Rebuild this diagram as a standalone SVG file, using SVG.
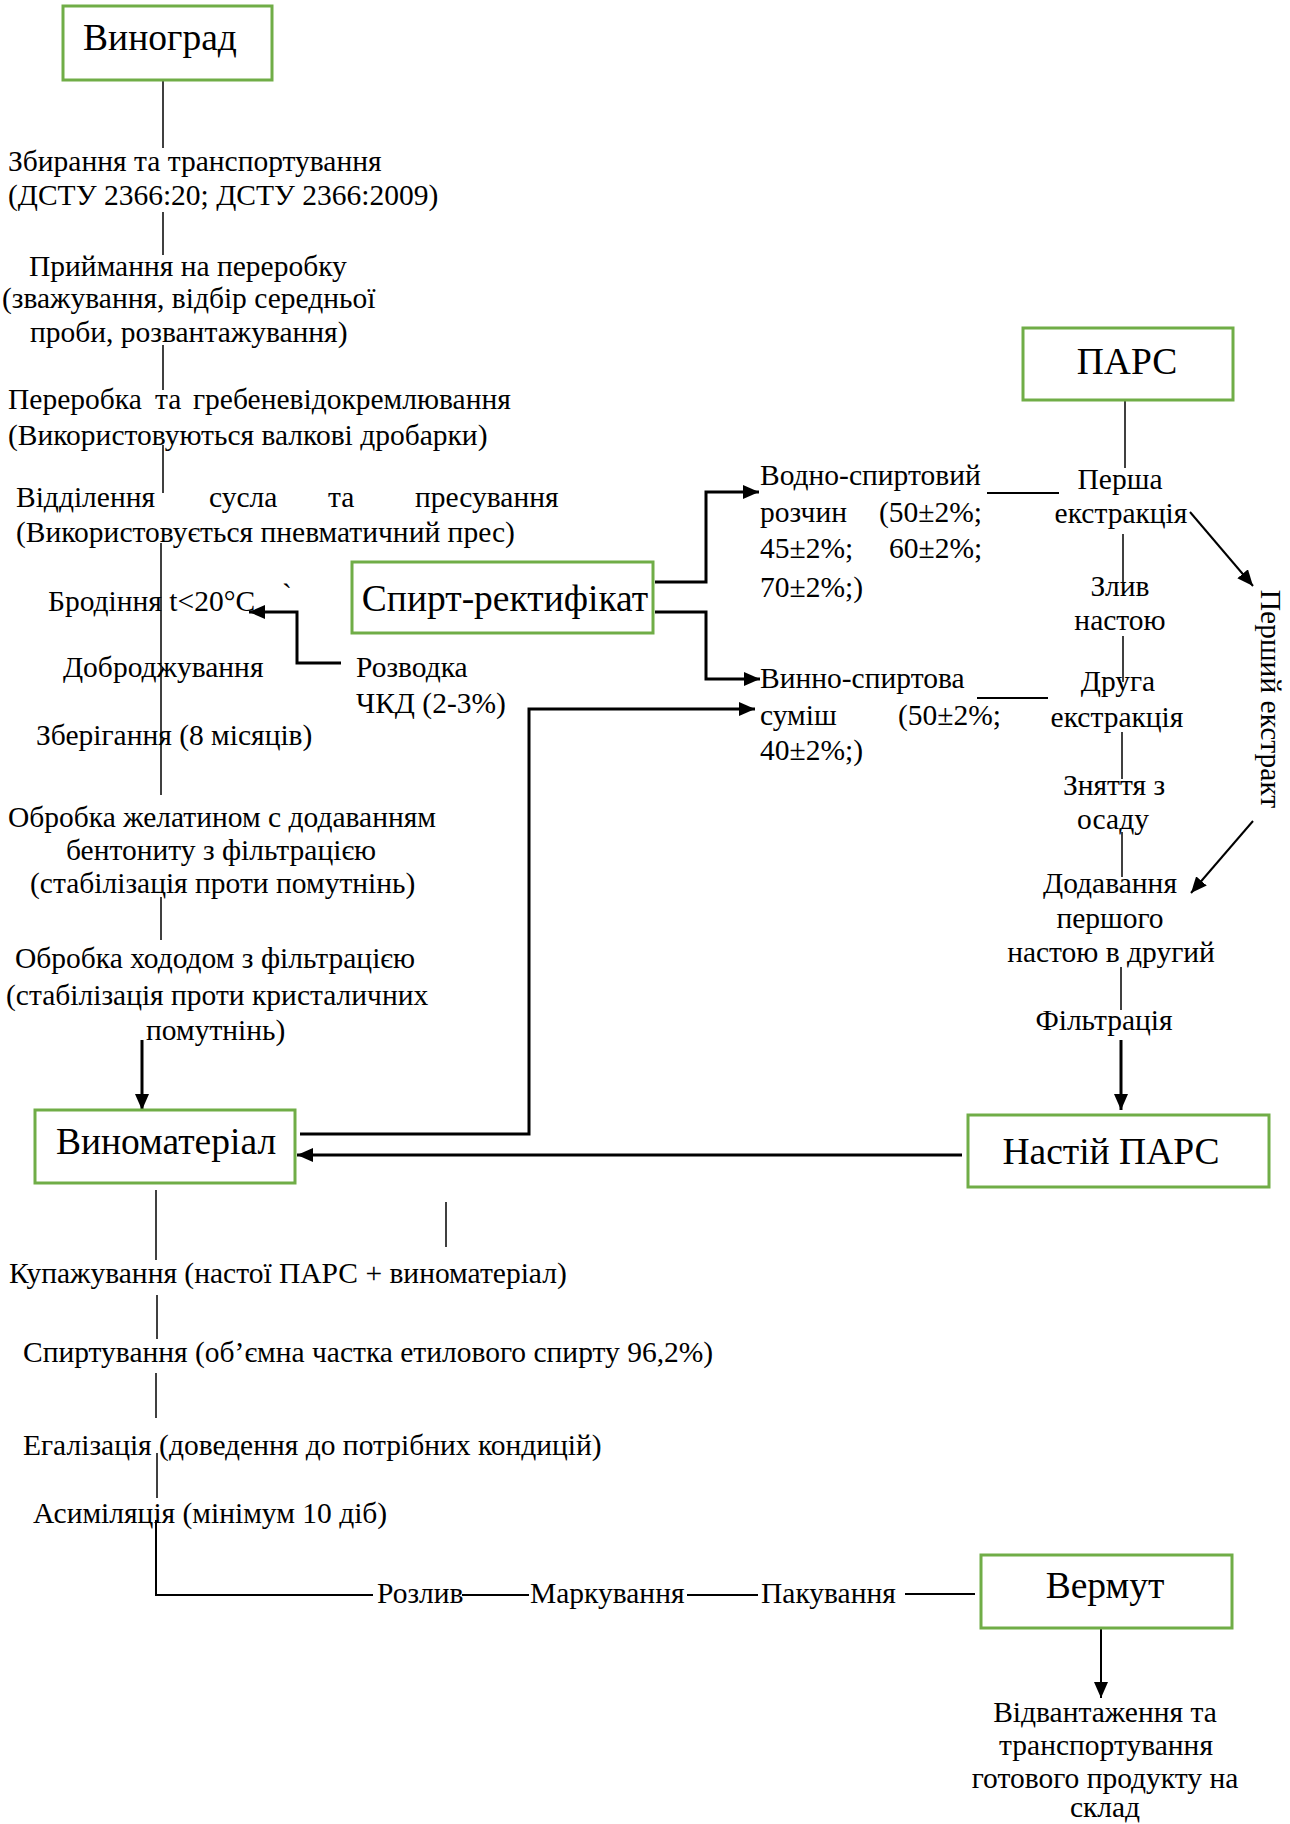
<svg xmlns="http://www.w3.org/2000/svg" width="1290" height="1824" viewBox="0 0 1290 1824">
<style>
.t{font-family:"Liberation Serif","Times New Roman",serif;font-size:29.5px;fill:#000}
.h{font-size:37.5px}
.m{text-anchor:middle}
.box{fill:#fff;stroke:#70AD47;stroke-width:3}
.thin{stroke:#000;stroke-width:1.5;fill:none}
.mid{stroke:#000;stroke-width:2;fill:none}
.thick{stroke:#000;stroke-width:3;fill:none}
</style>
<defs>
<marker id="ah" markerWidth="16" markerHeight="14" refX="16" refY="7" orient="auto" markerUnits="userSpaceOnUse"><path d="M0,0 L16,7 L0,14 z" fill="#000"/></marker>
</defs>
<rect width="1290" height="1824" fill="#fff"/>
<g id="connectors">
<path class="thin" d="M163,80 V148"/>
<path class="thin" d="M163,212 V255"/>
<path class="thin" d="M163,345 V390"/>
<path class="thin" d="M163,445 V493"/>
<path class="thin" d="M161,543 V795"/>
<path class="thin" d="M161,897 V940"/>
<path class="thick" d="M142,1040 V1110" marker-end="url(#ah)"/>
<path class="thick" d="M341,663 H297 V612 H249" marker-end="url(#ah)"/>
<path class="thick" d="M655,582 H706 V492 H759" marker-end="url(#ah)"/>
<path class="thick" d="M655,612 H706 V679 H760" marker-end="url(#ah)"/>
<path class="thick" d="M300,1134 H529 V709 H755" marker-end="url(#ah)"/>
<path class="thick" d="M962,1155 H297" marker-end="url(#ah)"/>
<path class="thin" d="M1125,400 V468"/>
<path class="mid" d="M987,493 H1059"/>
<path class="mid" d="M977,698 H1048"/>
<path class="thin" d="M1123,534 V582"/>
<path class="thin" d="M1123,636 V682"/>
<path class="thin" d="M1122,732 V779"/>
<path class="thin" d="M1122,832 V877"/>
<path class="thin" d="M1121,967 V1010"/>
<path class="mid" d="M1190,512 L1253,586" marker-end="url(#ah)"/>
<path class="mid" d="M1253,821 L1191,893" marker-end="url(#ah)"/>
<path class="thick" d="M1121,1040 V1110" marker-end="url(#ah)"/>
<path class="thin" d="M156,1190 V1260"/>
<path class="thin" d="M446,1202 V1247"/>
<path class="thin" d="M157,1295 V1339"/>
<path class="thin" d="M156,1373 V1418"/>
<path class="thin" d="M157,1453 V1498"/>
<path class="mid" d="M156,1520 V1595 H373"/>
<path class="mid" d="M462,1595 H529"/>
<path class="mid" d="M687,1595 H758"/>
<path class="mid" d="M905,1594 H975"/>
<path class="mid" d="M1101,1628 V1698" marker-end="url(#ah)"/>
</g>
<g id="n-vynohrad"><rect class="box" x="63" y="6" width="209" height="74"/><text class="t h m" x="160" y="50">Виноград</text></g>
<g id="n-zbyrannia"><text class="t" x="8" y="171">Збирання та транспортування</text><text class="t" x="8" y="205">(ДСТУ 2366:20; ДСТУ 2366:2009)</text></g>
<g id="n-pryimannia"><text class="t" x="29" y="276">Приймання на переробку</text><text class="t" x="2" y="308">(зважування, відбір середньої</text><text class="t" x="30" y="342">проби, розвантажування)</text></g>
<g id="n-pererobka"><text class="t" y="409"><tspan x="8">Переробка</tspan><tspan x="155">та</tspan><tspan x="193">гребеневідокремлювання</tspan></text><text class="t" x="8" y="445">(Використовуються валкові дробарки)</text></g>
<g id="n-viddilennia"><text class="t" y="507"><tspan x="16">Відділення</tspan><tspan x="209">сусла</tspan><tspan x="328">та</tspan><tspan x="415">пресування</tspan></text><text class="t" x="16" y="542">(Використовується пневматичний прес)</text></g>
<g id="n-brodinnia"><text class="t" x="48" y="611">Бродіння t&lt;20°C</text><text class="t" x="282" y="604">`</text></g>
<g id="n-dobrodzh"><text class="t" x="63" y="677">Доброджування</text></g>
<g id="n-zberihannia"><text class="t" x="36" y="745">Зберігання (8 місяців)</text></g>
<g id="n-zhelatyn"><text class="t" x="8" y="827">Обробка желатином с додаванням</text><text class="t" x="66" y="860">бентониту з фільтрацією</text><text class="t" x="30" y="893">(стабілізація проти помутнінь)</text></g>
<g id="n-kholod"><text class="t" x="15" y="968">Обробка хододом з фільтрацією</text><text class="t" x="6" y="1005">(стабілізація проти кристаличних</text><text class="t" x="146" y="1040">помутнінь)</text></g>
<g id="n-rozvodka"><text class="t" x="356" y="677">Розводка</text><text class="t" x="356" y="713">ЧКД (2-3%)</text></g>
<g id="n-spyrt"><rect class="box" x="352" y="562" width="301" height="71"/><text class="t h m" x="505" y="611">Спирт-ректифікат</text></g>
<g id="n-vodno"><text class="t" x="760" y="485">Водно-спиртовий</text><text class="t" y="522"><tspan x="760">розчин</tspan><tspan x="879">(50±2%;</tspan></text><text class="t" y="558"><tspan x="760">45±2%;</tspan><tspan x="889">60±2%;</tspan></text><text class="t" x="760" y="597">70±2%;)</text></g>
<g id="n-vynno"><text class="t" x="760" y="688">Винно-спиртова</text><text class="t" y="725"><tspan x="760">суміш</tspan><tspan x="898">(50±2%;</tspan></text><text class="t" x="760" y="760">40±2%;)</text></g>
<g id="n-pars"><rect class="box" x="1023" y="328" width="210" height="72"/><text class="t h m" x="1127" y="374">ПАРС</text></g>
<g id="n-persha"><text class="t m" x="1120" y="489">Перша</text><text class="t m" x="1121" y="523">екстракція</text></g>
<g id="n-zlyv"><text class="t m" x="1120" y="596">Злив</text><text class="t m" x="1120" y="630">настою</text></g>
<g id="n-druha"><text class="t m" x="1118" y="691">Друга</text><text class="t m" x="1117" y="727">екстракція</text></g>
<g id="n-zniattia"><text class="t m" x="1114" y="795">Зняття з</text><text class="t m" x="1113" y="829">осаду</text></g>
<g id="n-pershyi"><text class="t m" transform="translate(1261,699) rotate(90)">Перший екстракт</text></g>
<g id="n-dodavannia"><text class="t m" x="1110" y="893">Додавання</text><text class="t m" x="1110" y="928">першого</text><text class="t m" x="1111" y="962">настою в другий</text></g>
<g id="n-filtratsiia"><text class="t m" x="1104" y="1030">Фільтрація</text></g>
<g id="n-nastii"><rect class="box" x="968" y="1115" width="301" height="72"/><text class="t h m" x="1111" y="1164">Настій ПАРС</text></g>
<g id="n-vynomaterial"><rect class="box" x="35" y="1110" width="260" height="73"/><text class="t h m" x="166" y="1154">Виноматеріал</text></g>
<g id="n-kupazh"><text class="t" x="9" y="1283">Купажування (настої ПАРС + виноматеріал)</text></g>
<g id="n-spyrtuvannia"><text class="t" x="23" y="1362">Спиртування (об’ємна частка етилового спирту 96,2%)</text></g>
<g id="n-ehalizatsiia"><text class="t" x="23" y="1455">Егалізація (доведення до потрібних кондицій)</text></g>
<g id="n-asymiliatsiia"><text class="t" x="33" y="1523">Асиміляція (мінімум 10 діб)</text></g>
<g id="n-rozlyv"><text class="t" x="377" y="1603">Розлив</text></g>
<g id="n-markuvannia"><text class="t" x="530" y="1603">Маркування</text></g>
<g id="n-pakuvannia"><text class="t" x="761" y="1603">Пакування</text></g>
<g id="n-vermut"><rect class="box" x="981" y="1555" width="251" height="73"/><text class="t h m" x="1105" y="1598">Вермут</text></g>
<g id="n-vidvantazh"><text class="t m" x="1105" y="1722">Відвантаження та</text><text class="t m" x="1106" y="1755">транспортування</text><text class="t m" x="1105" y="1788">готового продукту на</text><text class="t m" x="1105" y="1817">склад</text></g>
</svg>
